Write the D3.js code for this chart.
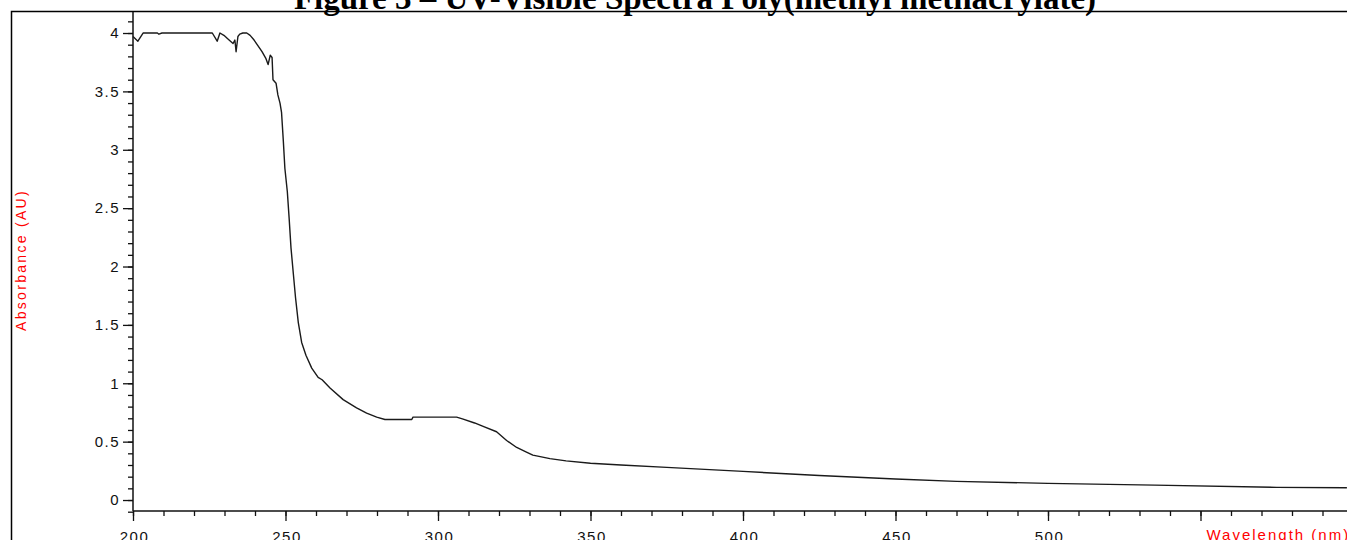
<!DOCTYPE html>
<html>
<head>
<meta charset="utf-8">
<script src="https://cdn.jsdelivr.net/npm/d3@7"></script>
<style>
    body { margin: 0; background: #fff; }
    svg { display: block; }
</style>
</head>
<body>
<svg id="chart" width="1347" height="540"></svg>
<script>
var width = 1347,
    height = 540;

// Spectrum: wavelength (nm) and absorbance (AU)
var wavelengths = [200, 201.6, 203.3, 208, 208.5, 209.5, 224, 226, 227.6, 228.5,
    229.8, 231.5, 232.8, 233.4, 233.8, 234.4, 235, 236, 237.3, 238.4,
    239.7, 241, 242.3, 243.6, 244.3, 245, 245.6, 245.9, 246.9, 247.5,
    248.2, 248.7, 249.3, 249.8, 250.6, 251.2, 251.8, 252.6, 253.3, 254.2,
    255.3, 256.7, 258.6, 260.7, 262, 264.6, 268.9, 273.3, 276.6, 279.9,
    282.6, 291.4, 291.8, 306.1, 308, 312, 314.8, 319.2, 322.5, 325.8,
    329, 331.1, 336.7, 342, 350, 360, 375, 400, 425, 450,
    470, 500, 535, 575, 598];
var absorbance = [3.97, 3.93, 4.0, 4.0, 3.99, 4.0, 4.0, 4.0, 3.93, 4.0,
    3.98, 3.94, 3.91, 3.94, 3.84, 3.97, 3.99, 4.0, 4.0, 3.98,
    3.94, 3.89, 3.84, 3.78, 3.73, 3.81, 3.79, 3.60, 3.57, 3.47,
    3.40, 3.32, 3.07, 2.84, 2.64, 2.41, 2.16, 1.93, 1.73, 1.52,
    1.35, 1.24, 1.13, 1.05, 1.03, 0.96, 0.86, 0.79, 0.745, 0.71,
    0.69, 0.69, 0.71, 0.71, 0.695, 0.66, 0.63, 0.585, 0.51, 0.45,
    0.41, 0.385, 0.355, 0.335, 0.315, 0.30, 0.28, 0.245, 0.21, 0.18,
    0.16, 0.143, 0.128, 0.108, 0.105];

var x_major = [200, 250, 300, 350, 400, 450, 500];
var y_major = [0, 0.5, 1, 1.5, 2, 2.5, 3, 3.5, 4];
var y_labels = ["0", "0.5", "1", "1.5", "2", "2.5", "3", "3.5", "4"];

var title = "Figure 3 \u2013 UV-Visible Spectra Poly(methyl methacrylate)";
var x_title = "Wavelength (nm)";
var y_title = "Absorbance (AU)";

var data = wavelengths.map(function (w, i) {
    return { w: w, a: absorbance[i] };
});

var svg = d3.select("#chart");

var x = d3.scaleLinear().domain([200, 600]).range([133, 1353]);
var y = d3.scaleLinear().domain([-0.1, 4.18]).range([511.7, 12]);

// Outer frame (left and top edges are visible)
svg.append("path")
    .attr("d", "M11.5,540 L11.5,11.5 L1347,11.5")
    .attr("fill", "none")
    .attr("stroke", "#000")
    .attr("stroke-width", 1.5);

// Title, clipped at the top of the picture
svg.append("text")
    .attr("x", 695)
    .attr("y", 9)
    .attr("text-anchor", "middle")
    .attr("font-family", "Liberation Serif, Times New Roman, serif")
    .attr("font-weight", "bold")
    .attr("font-size", 33)
    .text(title);

// Minor ticks
var x_minor = d3.range(200, 600, 10);
var y_minor = d3.range(-1, 42).map(function (d) { return d / 10; });

var xAxis = d3.axisBottom(x)
    .tickValues(x_major.concat([550]))
    .tickSize(10)
    .tickFormat(function (d) { return d == 550 ? "" : d; });
var xMinorAxis = d3.axisBottom(x).tickValues(x_minor).tickSize(5).tickFormat("");

var yAxis = d3.axisLeft(y)
    .tickValues(y_major)
    .tickSize(10)
    .tickPadding(3)
    .tickFormat(function (d, i) { return y_labels[i]; });
var yMinorAxis = d3.axisLeft(y).tickValues(y_minor).tickSize(5).tickFormat("");

function styleAxis(g) {
    g.select(".domain").remove();
    g.selectAll("line").attr("stroke", "#111").attr("stroke-width", 1.3);
    g.selectAll("text")
        .attr("fill", "#111")
        .attr("font-family", "Liberation Sans, Arial, sans-serif")
        .attr("font-size", 15)
        .attr("letter-spacing", 1.5);
}

svg.append("g").attr("transform", "translate(0,511)").call(xMinorAxis).call(styleAxis);
svg.append("g").attr("transform", "translate(0,511)").call(xAxis).call(styleAxis)
    .selectAll("text").attr("dy", "1.2em").attr("dx", 1);
svg.append("g").attr("transform", "translate(133,0)").call(yMinorAxis).call(styleAxis);
svg.append("g").attr("transform", "translate(133,0)").call(yAxis).call(styleAxis);

// Axis lines
svg.append("line")
    .attr("x1", 133).attr("x2", 133)
    .attr("y1", 12).attr("y2", 511)
    .attr("stroke", "#111").attr("stroke-width", 1.5);
svg.append("line")
    .attr("x1", 133).attr("x2", width)
    .attr("y1", 511).attr("y2", 511)
    .attr("stroke", "#111").attr("stroke-width", 1.5);

// Axis titles in red
svg.append("text")
    .attr("x", x(550) + 6)
    .attr("y", 540)
    .attr("fill", "#ff0000")
    .attr("font-family", "Liberation Sans, Arial, sans-serif")
    .attr("font-size", 15)
    .attr("letter-spacing", 2)
    .text(x_title);

svg.append("text")
    .attr("transform", "translate(26,260) rotate(-90)")
    .attr("text-anchor", "middle")
    .attr("fill", "#ff0000")
    .attr("font-family", "Liberation Sans, Arial, sans-serif")
    .attr("font-size", 14)
    .attr("letter-spacing", 2.3)
    .text(y_title);

// Spectrum
var line = d3.line()
    .x(function (d) { return x(d.w); })
    .y(function (d) { return y(d.a); });

svg.append("path")
    .datum(data)
    .attr("d", line)
    .attr("fill", "none")
    .attr("stroke", "#1a1a1a")
    .attr("stroke-width", 1.4)
    .attr("stroke-linejoin", "round");
</script>
</body>
</html>
